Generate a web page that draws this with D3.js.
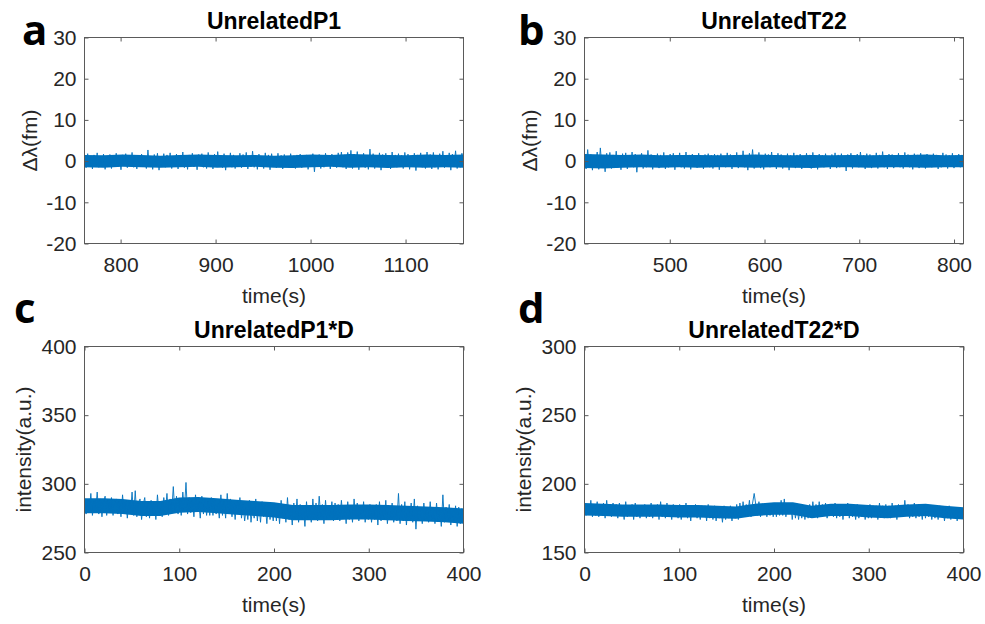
<!DOCTYPE html>
<html>
<head>
<meta charset="utf-8">
<script src="https://cdn.jsdelivr.net/npm/d3@7"></script>
<style>
  body { margin: 0; background: #fff; }
  svg { display: block; }
  .tick text { font-family: 'Liberation Sans', Arial, sans-serif; font-size: 21px; fill: #262626; }
  .tick line { stroke: #5a5a5a; stroke-width: 1; }
</style>
</head>
<body>
<script>
// values (one value per ~1.7 s of trace)
const shiftP1 = [
  1.4,-1.6,1.8,-1.1,1.2,-1.9,1.5,-0.9,2.0,-1.5,1.0,-1.3,1.7,-2.0,1.2,-1.0,1.6,-1.8,0.9,-1.2,
  1.9,-1.4,1.1,-2.1,1.5,-0.8,1.8,-1.6,1.3,-1.1,2.1,-1.5,0.9,-1.9,1.4,-1.2,1.7,-1.4,1.0,-1.8,
  2.7,-1.3,1.2,-2.0,1.6,-1.0,1.9,-2.2,1.1,-1.3,1.8,-1.5,1.5,-1.0,2.0,-1.8,1.0,-1.4,1.7,-1.9,
  1.3,-1.1,2.2,-1.6,0.9,-2.0,1.5,-1.2,1.9,-1.4,1.1,-2.1,1.6,-0.9,1.8,-1.5,1.2,-1.8,2.1,-1.3,
  1.0,-1.9,1.7,-1.4,2.3,-1.0,1.4,-1.6,1.8,-2.2,1.2,-1.0,2.0,-1.5,1.5,-1.8,1.0,-1.3,1.9,-1.6,
  1.6,-1.2,2.1,-1.9,1.1,-1.4,2.4,-1.5,1.3,-2.0,1.7,-1.1,1.2,-1.8,2.0,-1.3,1.5,-2.1,1.8,-1.0,
  1.1,-1.6,1.9,-1.2,1.4,-1.9,1.6,-1.4,1.0,-1.5,1.8,-1.2,1.3,-1.8,1.5,-1.0,1.7,-1.6,1.2,-1.3,
  1.5,-2.0,1.1,-1.4,1.8,-2.6,1.4,-1.2,1.6,-1.8,1.0,-1.5,1.9,-1.1,1.3,-1.9,1.7,-1.3,1.2,-1.6,
  2.0,-1.2,2.2,-1.5,1.5,-1.9,2.1,-1.0,2.6,-1.8,1.7,-1.4,2.3,-2.1,1.4,-1.2,1.9,-1.6,1.3,-2.0,
  2.9,-1.4,1.8,-1.8,1.2,-1.3,2.0,-2.2,1.6,-1.1,1.9,-1.6,1.1,-1.9,2.2,-1.3,1.5,-1.5,1.8,-1.2,
  1.4,-1.8,2.1,-1.2,1.7,-2.0,1.2,-1.4,1.9,-2.3,1.5,-1.1,2.0,-1.5,1.3,-1.8,2.2,-1.3,1.6,-1.9,
  2.1,-1.5,1.3,-2.0,1.8,-1.0,2.4,-1.6,1.2,-1.4,2.0,-2.2,1.7,-1.2,2.5,-1.8,1.4,-1.5,1.9,-1.3
]

const shiftT22 = [
  1.8,-1.9,2.8,-1.4,1.6,-2.2,1.4,-1.0,2.2,-2.0,3.2,-1.5,1.3,-2.6,1.9,-1.1,2.1,-1.8,1.5,-1.3,
  2.4,-1.6,1.2,-2.1,1.8,-0.9,2.0,-1.9,1.4,-1.4,2.2,-1.5,1.7,-2.7,1.3,-1.1,1.9,-1.8,1.1,-1.5,
  2.6,-1.3,1.6,-2.0,1.2,-1.4,1.8,-1.7,1.5,-1.0,2.1,-1.9,1.3,-1.5,1.7,-1.1,1.9,-2.1,1.4,-1.2,
  2.0,-1.5,1.1,-1.8,2.2,-1.3,1.5,-2.0,1.7,-0.9,1.3,-1.6,1.9,-1.4,1.2,-1.9,1.6,-1.2,1.8,-1.5,
  1.4,-1.8,1.7,-1.1,1.5,-2.1,1.8,-1.3,1.1,-1.5,2.0,-1.2,1.6,-1.9,1.3,-1.4,2.1,-1.7,1.2,-1.3,
  2.5,-1.5,1.4,-2.2,1.9,-1.0,2.8,-1.8,1.5,-1.3,2.1,-1.7,1.2,-2.0,1.8,-1.2,1.6,-1.5,2.2,-1.4,
  1.3,-1.9,1.9,-1.3,1.6,-1.8,1.1,-1.4,1.8,-2.2,1.4,-1.1,2.0,-1.7,1.5,-1.2,1.7,-1.9,1.2,-1.5,
  1.9,-1.3,1.5,-1.8,2.1,-1.5,1.3,-2.0,1.7,-1.1,1.4,-1.5,1.8,-1.4,1.2,-1.9,1.6,-1.2,2.0,-1.7,
  1.5,-1.5,1.8,-1.2,1.2,-2.4,1.6,-1.3,1.9,-1.8,1.3,-1.4,1.7,-1.5,2.2,-1.1,1.4,-1.9,1.8,-1.3,
  1.6,-1.7,1.3,-1.4,2.0,-1.8,1.5,-1.1,2.3,-1.5,1.4,-1.9,1.7,-1.2,1.6,-1.7,1.2,-1.4,1.9,-1.5,
  1.4,-1.8,2.1,-1.2,1.6,-1.5,1.3,-2.0,1.8,-1.3,1.5,-1.7,1.9,-1.1,1.4,-1.8,1.7,-1.4,1.3,-1.5,
  1.8,-1.3,1.5,-1.9,1.2,-1.5,2.0,-1.2,1.6,-1.8,1.4,-1.4,1.9,-1.7,1.3,-1.3,1.7,-1.5,1.5,-1.2
]

const intensityP1D = [
  290,278,288,279,293,277,287,280,294,278,289,276,287,291,277,288,279,290,277,287,
  289,278,287,276,292,279,288,275,287,279,294,277,295,276,286,289,274,285,290,276,
  287,275,288,278,287,274,292,279,286,276,290,280,293,277,289,280,298,279,291,278,
  289,277,294,281,301,278,290,279,288,276,292,280,287,275,291,278,289,277,287,277,
  290,277,288,278,286,275,292,277,287,275,293,279,289,276,286,274,287,278,290,275,
  285,273,283,274,288,272,283,275,289,273,285,272,287,276,284,271,286,274,283,273,
  286,273,285,271,288,275,284,272,290,274,283,270,286,275,289,272,285,274,282,269,
  287,274,284,272,289,275,286,273,291,276,285,271,288,274,284,276,287,273,286,275,
  285,273,288,275,283,271,287,274,284,272,289,276,286,273,283,275,287,272,284,274,
  285,272,283,274,285,270,287,273,284,275,288,271,283,274,286,272,282,273,293,271,
  285,273,287,270,283,274,286,272,289,267,284,273,282,271,286,274,283,272,287,273,
  283,271,286,273,282,269,292,272,283,274,285,270,282,273,284,269,283,271,282,271
]

const intensityT22D = [
  186,177,185,178,188,176,185,177,187,176,185,178,186,175,188,177,185,176,186,178,
  185,175,186,177,184,174,187,176,184,177,185,174,186,176,184,175,184,177,185,175,
  184,176,186,175,184,177,185,174,187,176,184,175,186,177,184,174,185,176,184,175,
  185,174,184,176,186,175,184,173,184,176,185,175,183,174,184,176,184,173,185,175,
  183,174,184,173,183,175,182,172,184,174,183,175,184,173,183,175,185,174,186,176,
  187,177,185,178,188,176,186,193,185,177,187,176,185,178,186,176,185,177,186,176,
  185,176,186,177,188,177,189,176,185,178,186,174,184,175,183,174,183,175,184,174,
  184,175,185,176,187,177,185,175,187,176,185,177,186,175,185,177,185,176,186,175,
  184,176,185,174,184,177,186,175,184,176,183,174,185,175,183,176,184,174,184,175,
  185,175,184,176,184,174,186,176,184,175,185,177,184,175,186,176,184,174,185,176,
  184,176,188,177,185,175,184,176,186,175,184,176,183,174,185,175,183,176,184,174,
  183,175,182,174,184,176,183,173,182,175,184,174,182,175,183,173,182,175,181,174
]

// dense core of each trace (upper / lower edge, one value per 1/20 of the time span)
const coreP1Upper = [1.5, 1.4, 1.6, 1.5, 1.3, 1.5, 1.6, 1.5, 1.4, 1.5, 1.3, 1.4, 1.6, 1.5, 1.7, 1.6, 1.5, 1.4, 1.6, 1.5, 1.6]
const coreP1Lower = [-1.5, -1.6, -1.4, -1.5, -1.6, -1.5, -1.4, -1.6, -1.5, -1.4, -1.6, -1.7, -1.5, -1.4, -1.6, -1.5, -1.7, -1.5, -1.6, -1.5, -1.6]
const coreT22Upper = [1.7, 1.6, 1.5, 1.6, 1.4, 1.5, 1.5, 1.4, 1.5, 1.6, 1.5, 1.4, 1.5, 1.4, 1.5, 1.4, 1.5, 1.5, 1.6, 1.4, 1.5]
const coreT22Lower = [-1.7, -1.8, -1.6, -1.5, -1.6, -1.5, -1.6, -1.5, -1.5, -1.6, -1.5, -1.6, -1.7, -1.5, -1.5, -1.6, -1.5, -1.5, -1.6, -1.5, -1.5]
const coreP1DUpper = [289.5, 289.5, 289, 287.5, 287.5, 290, 290.5, 289.5, 288.5, 287.5, 286.5, 284.5, 284.5, 284.5, 285, 285, 284.5, 284, 283.5, 283, 282]
const coreP1DLower = [278.5, 278.5, 278, 276.5, 276.5, 279, 279.5, 278.5, 277.5, 276.5, 275.5, 273.5, 273.5, 273.5, 274, 274, 273.5, 273, 272.5, 272, 271]
const coreT22DUpper = [186, 185.5, 185, 185, 185, 184.5, 184.5, 184, 183.5, 185.5, 186.5, 186.5, 184, 185.5, 185.5, 184.5, 184, 185, 185.5, 184, 183]
const coreT22DLower = [177, 176.5, 176, 176, 176, 175.5, 175.5, 175, 174.5, 176.5, 177.5, 177.5, 175, 176.5, 176.5, 175.5, 175, 176, 176.5, 175, 174]

// time spans (s) covered by each trace
const timeP1 = [762, 1161]
const timeT22 = [410, 810]
const timeD = [0, 400]

const ticksShift = [-20, -10, 0, 10, 20, 30]
const ticksP1D = [250, 300, 350, 400]
const ticksT22D = [150, 200, 250, 300]
const ticksTimeP1 = [800, 900, 1000, 1100]
const ticksTimeT22 = [500, 600, 700, 800]
const ticksTimeD = [0, 100, 200, 300, 400]

const titles = ['UnrelatedP1', 'UnrelatedT22', 'UnrelatedP1*D', 'UnrelatedT22*D']
const letters = ['a', 'b', 'c', 'd']

// =======================================================================================

const W = 985
const H = 624
const PW = 379
const PH = 206
const LINE_COLOR = '#0072BD'
const TEXT_COLOR = '#262626'
const FONT = "'Liberation Sans', Arial, sans-serif"

const panels = [
  { left: 84, top: 37, values: shiftP1, upper: coreP1Upper, lower: coreP1Lower, time: timeP1, yDomain: [-20, 30], yTicks: ticksShift, xTicks: ticksTimeP1, ylabel: 'Δλ(fm)', ylabelOff: 55, letterX: 22, letterY: 45 },
  { left: 584, top: 37, values: shiftT22, upper: coreT22Upper, lower: coreT22Lower, time: timeT22, yDomain: [-20, 30], yTicks: ticksShift, xTicks: ticksTimeT22, ylabel: 'Δλ(fm)', ylabelOff: 55, letterX: 518, letterY: 45 },
  { left: 84, top: 346, values: intensityP1D, upper: coreP1DUpper, lower: coreP1DLower, time: timeD, yDomain: [250, 400], yTicks: ticksP1D, xTicks: ticksTimeD, ylabel: 'intensity(a.u.)', ylabelOff: 61, letterX: 14, letterY: 323 },
  { left: 584, top: 346, values: intensityT22D, upper: coreT22DUpper, lower: coreT22DLower, time: timeD, yDomain: [150, 300], yTicks: ticksT22D, xTicks: ticksTimeD, ylabel: 'intensity(a.u.)', ylabelOff: 61, letterX: 518, letterY: 323 },
]

const svg = d3.select('body').append('svg')
  .attr('width', W)
  .attr('height', H)

const drawPanel = (p, i) => {
  const g = svg.append('g')
    .attr('transform', `translate(${p.left + 0.5},${p.top + 0.5})`)

  const x = d3.scaleLinear().domain(p.time).range([0, PW])
  const y = d3.scaleLinear().domain(p.yDomain).range([PH, 0])
  const step = (p.time[1] - p.time[0]) / (p.values.length - 1)
  const coreStep = (p.time[1] - p.time[0]) / (p.upper.length - 1)
  const fmt = d => String(d)

  g.append('clipPath').attr('id', `clip-${i}`)
    .append('rect').attr('width', PW).attr('height', PH)

  const trace = g.append('g').attr('clip-path', `url(#clip-${i})`)

  trace.append('path')
    .datum(p.upper)
    .attr('fill', LINE_COLOR)
    .attr('d', d3.area()
      .x((d, k) => x(p.time[0] + k * coreStep))
      .y0((d, k) => y(p.lower[k]))
      .y1(d => y(d)))

  trace.append('path')
    .datum(p.values)
    .attr('fill', 'none')
    .attr('stroke', LINE_COLOR)
    .attr('stroke-width', 0.9)
    .attr('stroke-linejoin', 'round')
    .attr('d', d3.line()
      .x((d, k) => x(p.time[0] + k * step))
      .y(d => y(d)))

  // ticks on all four sides, pointing inwards
  g.append('g').attr('transform', `translate(0,${PH})`)
    .call(d3.axisBottom(x).tickValues(p.xTicks).tickSize(-4).tickPadding(14).tickFormat(fmt))
  g.append('g')
    .call(d3.axisTop(x).tickValues(p.xTicks).tickSize(-4).tickFormat(''))
  g.append('g')
    .call(d3.axisLeft(y).tickValues(p.yTicks).tickSize(-4).tickPadding(8).tickFormat(fmt))
  g.append('g').attr('transform', `translate(${PW},0)`)
    .call(d3.axisRight(y).tickValues(p.yTicks).tickSize(-4).tickFormat(''))
  g.selectAll('.domain').remove()

  g.append('rect')
    .attr('width', PW)
    .attr('height', PH)
    .attr('fill', 'none')
    .attr('stroke', '#5a5a5a')
    .attr('stroke-width', 1)

  g.append('text')
    .attr('x', PW / 2)
    .attr('y', -9)
    .attr('text-anchor', 'middle')
    .attr('font-family', FONT)
    .attr('font-weight', 'bold')
    .attr('font-size', 23)
    .attr('fill', '#000')
    .text(titles[i])

  g.append('text')
    .attr('x', PW / 2)
    .attr('y', PH + 59)
    .attr('text-anchor', 'middle')
    .attr('font-family', FONT)
    .attr('font-size', 21)
    .attr('fill', TEXT_COLOR)
    .text('time(s)')

  g.append('text')
    .attr('transform', `translate(${-p.ylabelOff},${PH / 2}) rotate(-90)`)
    .attr('text-anchor', 'middle')
    .attr('dy', '0.35em')
    .attr('font-family', FONT)
    .attr('font-size', 21)
    .attr('fill', TEXT_COLOR)
    .text(p.ylabel)

  svg.append('text')
    .attr('x', p.letterX)
    .attr('y', p.letterY)
    .attr('font-family', "'Liberation Sans Narrow', 'Open Sans', sans-serif")
    .attr('font-weight', 700)
    .attr('font-size', 42)
    .attr('fill', '#000')
    .text(letters[i])
}

panels.forEach(drawPanel)
</script>
</body>
</html>
